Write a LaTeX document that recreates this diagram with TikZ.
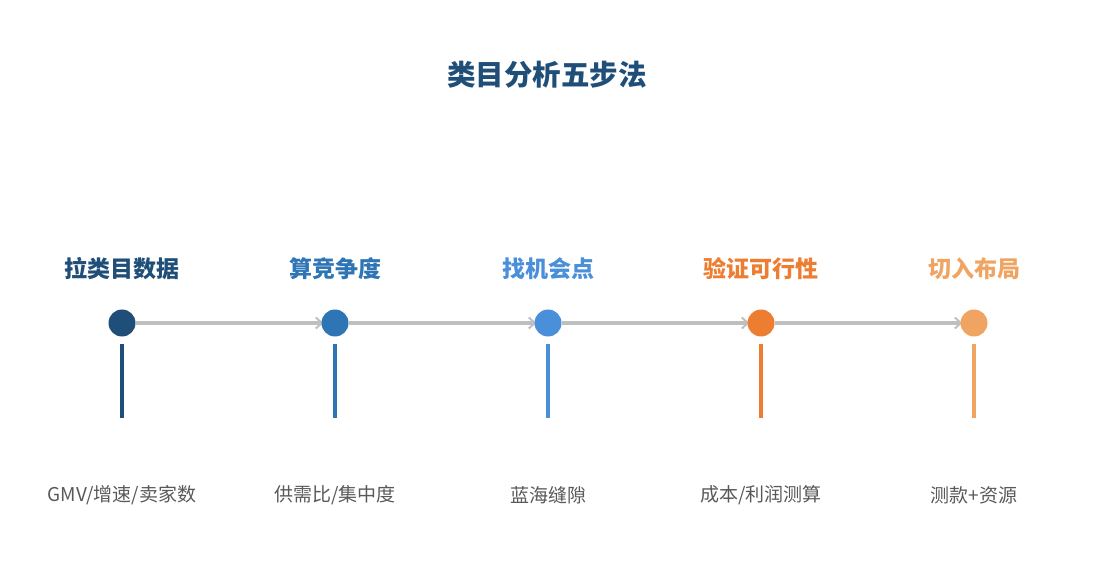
\documentclass[tikz,border=0pt]{standalone}
\usepackage{fontspec}
\setmainfont{Noto Sans CJK SC}
\usetikzlibrary{arrows.meta,backgrounds}

\definecolor{stepa}{HTML}{1F4E79}
\definecolor{stepb}{HTML}{2E75B6}
\definecolor{stepc}{HTML}{4A8FD9}
\definecolor{stepd}{HTML}{ED7D31}
\definecolor{stepe}{HTML}{F0A462}
\definecolor{flowgray}{HTML}{BFBFBF}
\definecolor{notegray}{HTML}{595959}

\begin{document}
\begin{tikzpicture}[
  x=1pt, y=-1pt,
  headline/.style={
    font=\bfseries\fontsize{28.5}{32}\selectfont,
    text=stepa
  },
  dot/.style={
    circle,
    inner sep=0pt,
    minimum size=27pt
  },
  steptitle/.style={
    font=\bfseries\fontsize{23}{26}\selectfont,
    inner sep=0pt
  },
  stepnote/.style={
    font=\fontsize{19}{22}\selectfont,
    text=notegray,
    inner sep=0pt
  },
  flow/.style={
    draw=flowgray,
    line width=3.5pt,
    shorten >=-2pt,
    -{Straight Barb[length=6pt,width=11pt,line width=2pt]}
  },
  bar/.style={
    line width=3.5pt
  }]
  \useasboundingbox (0,0) rectangle (1095,585);

  \node[headline] (title) at (547,75) {类目分析五步法};

  % steps
  \node[dot,fill=stepa] (s1) at (122,323) {};
  \node[dot,fill=stepb] (s2) at (335,323) {};
  \node[dot,fill=stepc] (s3) at (548,323) {};
  \node[dot,fill=stepd] (s4) at (761,323) {};
  \node[dot,fill=stepe] (s5) at (974,323) {};

  \node[steptitle,text=stepa] (t1) at (122,269) {拉类目数据};
  \node[steptitle,text=stepb] (t2) at (335,269) {算竞争度};
  \node[steptitle,text=stepc] (t3) at (548,269) {找机会点};
  \node[steptitle,text=stepd] (t4) at (761,269) {验证可行性};
  \node[steptitle,text=stepe] (t5) at (974,269) {切入布局};

  \begin{pgfonlayer}{background}
    \draw[flow] (s1) -- (s2);
    \draw[flow] (s2) -- (s3);
    \draw[flow] (s3) -- (s4);
    \draw[flow] (s4) -- (s5);
  \end{pgfonlayer}

  % bars below the dots
  \coordinate (b1a) at (122,344); \coordinate (b1b) at (122,418);
  \coordinate (b2a) at (335,344); \coordinate (b2b) at (335,418);
  \coordinate (b3a) at (548,344); \coordinate (b3b) at (548,418);
  \coordinate (b4a) at (761,344); \coordinate (b4b) at (761,418);
  \coordinate (b5a) at (974,344); \coordinate (b5b) at (974,418);
  \draw[bar,stepa] (b1a) -- (b1b);
  \draw[bar,stepb] (b2a) -- (b2b);
  \draw[bar,stepc] (b3a) -- (b3b);
  \draw[bar,stepd] (b4a) -- (b4b);
  \draw[bar,stepe] (b5a) -- (b5b);

  \node[stepnote] (n1) at (122,495) {GMV/增速/卖家数};
  \node[stepnote] (n2) at (335,495) {供需比/集中度};
  \node[stepnote] (n3) at (548,495) {蓝海缝隙};
  \node[stepnote] (n4) at (761,495) {成本/利润测算};
  \node[stepnote] (n5) at (974,495) {测款+资源};
\end{tikzpicture}
\end{document}
